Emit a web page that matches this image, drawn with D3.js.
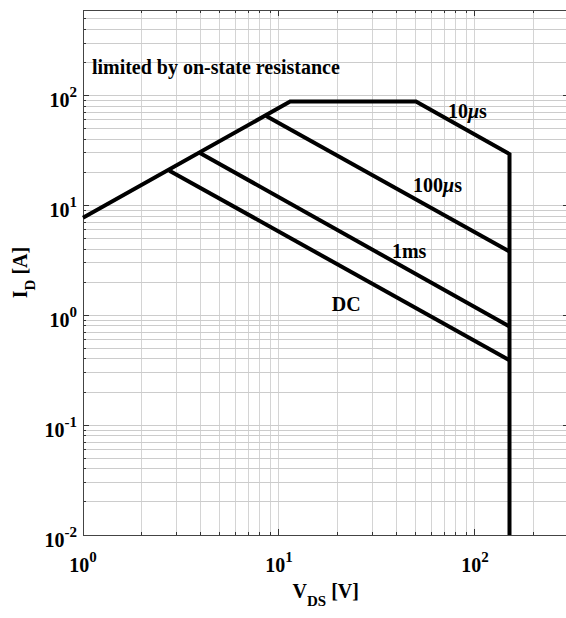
<!DOCTYPE html>
<html>
<head>
<meta charset="utf-8">
<script src="https://cdn.jsdelivr.net/npm/d3@7"></script>
<style>
  body { margin: 0; background: #fff; }
  text { font-family: 'Liberation Serif', 'Times New Roman', serif; font-weight: bold; fill: #000; }
</style>
</head>
<body>
<div class="soa"></div>
<script>
// safe operating area (V, A)
const boundary = [[1, 7.7], [11.4, 88], [50, 88], [150, 29.3], [150, 0.01]];
const pulse100us = [[8.6, 65], [150, 3.8]];
const pulse1ms = [[3.95, 30], [150, 0.79]];
const dcLine = [[2.76, 20.7], [150, 0.39]];

const xDecades = [1, 10, 100];
const yDecades = [0.01, 0.1, 1, 10, 100];

const curveLabels = [
  { text: ['10', 'μ', 's'], v: 72.8, i: 63 },
  { text: ['100', 'μ', 's'], v: 48.3, i: 13.1 },
  { text: ['1ms'], v: 37.7, i: 3.35 },
  { text: ['DC'], v: 18.6, i: 1.1 }
];

const margin = { top: 10, left: 83 };
const width = 566;
const height = 618;
const plotRight = 568.5;
const plotBottom = 535;

const svg = d3.select('.soa')
  .append('svg')
  .attr('width', width)
  .attr('height', height);

const x = d3.scaleLog().domain([1, 300]).range([margin.left, plotRight]);
const y = d3.scaleLog().domain([0.01, 600]).range([plotBottom, margin.top]);

// minor values inside each domain
const minors = (dom) => {
  const out = [];
  for (let e = Math.floor(Math.log10(dom[0])); e <= Math.ceil(Math.log10(dom[1])); e++) {
    for (let m = 1; m <= 9; m++) {
      const v = m * Math.pow(10, e);
      if (v >= dom[0] * 0.999 && v <= dom[1] * 1.001) out.push(+v.toPrecision(3));
    }
  }
  return out;
};
const xMinor = minors(x.domain());
const yMinor = minors(y.domain());

// grid
const grid = svg.append('g').attr('shape-rendering', 'crispEdges');
grid.selectAll('.vg').data(xMinor).enter().append('line')
  .attr('x1', d => x(d)).attr('x2', d => x(d))
  .attr('y1', margin.top).attr('y2', plotBottom)
  .attr('stroke', '#d4d4d4').attr('stroke-width', 1);
grid.selectAll('.hg').data(yMinor).enter().append('line')
  .attr('x1', margin.left).attr('x2', plotRight)
  .attr('y1', d => y(d)).attr('y2', d => y(d))
  .attr('stroke', '#cccccc').attr('stroke-width', 1);

// ticks (inside, on all four sides)
const ticks = svg.append('g').attr('stroke', '#333').attr('stroke-width', 1).attr('shape-rendering', 'crispEdges');
const tickLen = d => (xDecades.includes(d) || yDecades.includes(d)) ? 6 : 3;
ticks.selectAll('.tb').data(xMinor).enter().append('line')
  .attr('x1', d => x(d)).attr('x2', d => x(d))
  .attr('y1', plotBottom).attr('y2', d => plotBottom - tickLen(d));
ticks.selectAll('.tt').data(xMinor).enter().append('line')
  .attr('x1', d => x(d)).attr('x2', d => x(d))
  .attr('y1', margin.top).attr('y2', d => margin.top + tickLen(d));
ticks.selectAll('.tl').data(yMinor).enter().append('line')
  .attr('x1', margin.left).attr('x2', d => margin.left + tickLen(d))
  .attr('y1', d => y(d)).attr('y2', d => y(d));
ticks.selectAll('.tr').data(yMinor).enter().append('line')
  .attr('x1', plotRight).attr('x2', d => plotRight - tickLen(d))
  .attr('y1', d => y(d)).attr('y2', d => y(d));

// box
svg.append('rect')
  .attr('x', margin.left).attr('y', margin.top)
  .attr('width', plotRight - margin.left).attr('height', plotBottom - margin.top)
  .attr('fill', 'none').attr('stroke', '#444').attr('stroke-width', 1)
  .attr('shape-rendering', 'crispEdges');

// tick labels, 10^n
const powLabel = (sel) => {
  sel.append('tspan').text('10');
  sel.append('tspan').attr('font-size', 15).attr('dy', -10).text(d => Math.round(Math.log10(d)));
};
svg.selectAll('.xl').data(xDecades).enter().append('text')
  .attr('x', d => x(d)).attr('y', 572)
  .attr('text-anchor', 'middle').attr('font-size', 20)
  .call(powLabel);
svg.selectAll('.yl').data(yDecades).enter().append('text')
  .attr('x', 77).attr('y', d => y(d) + 12)
  .attr('text-anchor', 'end').attr('font-size', 20)
  .call(powLabel);

// axis titles
svg.append('text')
  .attr('x', (margin.left + plotRight) / 2).attr('y', 598)
  .attr('text-anchor', 'middle').attr('font-size', 20)
  .call(t => {
    t.append('tspan').text('V');
    t.append('tspan').attr('font-size', 15).attr('dy', 8).text('DS');
    t.append('tspan').attr('dy', -8).text(' [V]');
  });
svg.append('text')
  .attr('transform', `translate(27, ${(margin.top + plotBottom) / 2}) rotate(-90)`)
  .attr('text-anchor', 'middle').attr('font-size', 20)
  .call(t => {
    t.append('tspan').text('I');
    t.append('tspan').attr('font-size', 15).attr('dy', 8).text('D');
    t.append('tspan').attr('dy', -8).text(' [A]');
  });

// curves
const line = d3.line().x(d => x(d[0])).y(d => y(d[1]));
const curves = svg.append('g');
[boundary, pulse100us, pulse1ms, dcLine].forEach(pts => {
  curves.append('path')
    .datum(pts)
    .attr('d', line)
    .attr('fill', 'none')
    .attr('stroke', '#000')
    .attr('stroke-width', 4)
    .attr('stroke-linejoin', 'miter');
});

// annotations
svg.append('text')
  .attr('x', x(1.11)).attr('y', y(158))
  .attr('font-size', 20)
  .text('limited by on-state resistance');

svg.selectAll('.cl').data(curveLabels).enter().append('text')
  .attr('x', d => x(d.v)).attr('y', d => y(d.i))
  .attr('font-size', 20)
  .each(function (d) {
    const t = d3.select(this);
    d.text.forEach(part => {
      t.append('tspan')
        .attr('font-style', part === 'μ' ? 'italic' : null)
        .text(part);
    });
  });
</script>
</body>
</html>
